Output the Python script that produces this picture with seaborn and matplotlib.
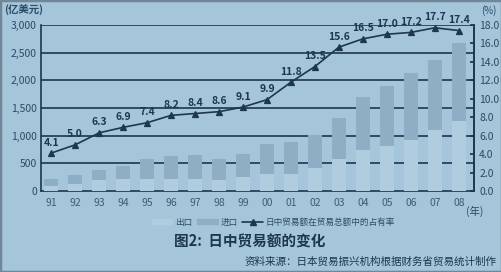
import matplotlib
matplotlib.use("Agg")
import matplotlib.pyplot as plt
import seaborn as sns
import numpy as np
import pandas as pd
from matplotlib.patches import Patch, Rectangle
from matplotlib.lines import Line2D

years = ["91", "92", "93", "94", "95", "96", "97", "98", "99",
         "00", "01", "02", "03", "04", "05", "06", "07", "08"]
exports = [90, 125, 195, 210, 222, 215, 214, 201, 245,
           305, 310, 410, 575, 745, 815, 928, 1095, 1270]
imports = [135, 170, 185, 250, 362, 420, 440, 380, 420,
           548, 582, 605, 752, 945, 1080, 1200, 1275, 1405]
share = [4.1, 5.0, 6.3, 6.9, 7.4, 8.2, 8.4, 8.6, 9.1,
         9.9, 11.8, 13.5, 15.6, 16.5, 17.0, 17.2, 17.7, 17.4]
share_labels = ["4.1", "5.0", "6.3", "6.9", "7.4", "8.2", "8.4", "8.6", "9.1",
                "9.9", "11.8", "13.5", "15.6", "16.5", "17.0", "17.2", "17.7", "17.4"]
left_ticks = [0, 500, 1000, 1500, 2000, 2500, 3000]
left_labels = ["0", "500", "1,000", "1,500", "2,000", "2,500", "3,000"]
right_ticks = [0, 2, 4, 6, 8, 10, 12, 14, 16, 18]
right_labels = ["0.0", "2.0", "4.0", "6.0", "8.0", "10.0", "12.0", "14.0", "16.0", "18.0"]

df = pd.DataFrame({"year": years, "exports": exports, "imports": imports,
                   "share": share})
df["total"] = df["exports"] + df["imports"]

BG = "#a5c5da"
LIGHT = "#b0cde0"
DARK = "#8eaec6"
NAVY = "#1d3651"
TXT = "#2b4a66"

sns.set_theme(style="white")
plt.rcParams["font.family"] = ["Noto Sans CJK SC", "DejaVu Sans"]

fig = plt.figure(figsize=(5.02, 2.72), dpi=100, facecolor=BG)
ax = fig.add_axes([0.0817, 0.298, 0.862, 0.610])
ax.set_facecolor(BG)

for y in left_ticks[1:]:
    ax.axhline(y, color=NAVY, lw=1.2, zorder=0)

sns.barplot(data=df, x="year", y="total", color=DARK, saturation=1,
            width=0.57, ax=ax, zorder=2, linewidth=0, edgecolor="none")
sns.barplot(data=df, x="year", y="exports", color=LIGHT, saturation=1,
            width=0.57, ax=ax, zorder=3, linewidth=0, edgecolor="none")
ax.set_ylim(0, 3000)
ax.set_yticks(left_ticks)
ax.set_yticklabels(left_labels, fontsize=7.5, color=TXT)
ax.set_xlabel("")
ax.set_ylabel("")
ax.tick_params(axis="x", length=0, pad=5, labelsize=7.5, labelcolor="#3d5d78")
ax.tick_params(axis="y", length=0, pad=3)
ax.set_xticks(np.arange(len(years)) + 0.5, minor=True)
ax.tick_params(axis="x", which="minor", direction="in", length=3,
               color=NAVY, width=1)
for s in ["left", "bottom", "right"]:
    ax.spines[s].set_color(NAVY)
    ax.spines[s].set_linewidth(1.2)
ax.spines["top"].set_visible(False)

ax2 = ax.twinx()
sns.pointplot(x=years, y=share, ax=ax2, color=NAVY, markers="^",
              markersize=5, linewidth=1.2, errorbar=None)
ax2.set_ylim(0, 18)
ax2.set_yticks(right_ticks)
ax2.set_yticklabels(right_labels, fontsize=7.5, color=TXT)
ax2.tick_params(axis="y", direction="in", length=3, color=NAVY, pad=4)
for s in ["left", "bottom", "top"]:
    ax2.spines[s].set_visible(False)
ax2.spines["right"].set_color(NAVY)
ax2.spines["right"].set_linewidth(1.2)
ax2.set_ylabel("")
for i, lab in enumerate(share_labels):
    ax2.annotate(lab, (i, share[i]), xytext=(0, 4), textcoords="offset points",
                 ha="center", va="bottom", fontsize=7.5, color=NAVY,
                 fontweight="semibold")
ax.set_xlim(-0.42, len(years) - 0.38)

fig.text(0.008, 0.965, "(亿美元)", fontsize=7.5, color=TXT, fontweight="bold",
         va="center", ha="left")
fig.text(0.958, 0.962, "(%)", fontsize=7, color=TXT, va="center", ha="left")
fig.text(0.928, 0.222, "(年)", fontsize=7.5, color=TXT, va="center", ha="left")

handles = [Patch(color=LIGHT), Patch(color=DARK),
           Line2D([], [], color=NAVY, marker="^", markersize=4, lw=1.2)]
fig.legend(handles, ["出口", "进口", "日中贸易额在贸易总额中的占有率"],
           loc="center", bbox_to_anchor=(0.545, 0.182), ncol=3, frameon=False,
           fontsize=6.2, handlelength=2.4, handleheight=0.5, columnspacing=0.5,
           handletextpad=0.35, labelcolor=TXT)

fig.text(0.497, 0.113, "图2:  日中贸易额的变化", fontsize=10.5, color=NAVY,
         fontweight="bold", ha="center", va="center")
fig.text(0.99, 0.037, "资料来源：日本贸易振兴机构根据财务省贸易统计制作",
         fontsize=7.6, color=NAVY, ha="right", va="center")

fig.patches.append(Rectangle((0, 0), 1, 1, transform=fig.transFigure,
                             fill=False, edgecolor="#6f8799", lw=2.5))

fig.savefig("out.png", dpi=100, facecolor=BG)
